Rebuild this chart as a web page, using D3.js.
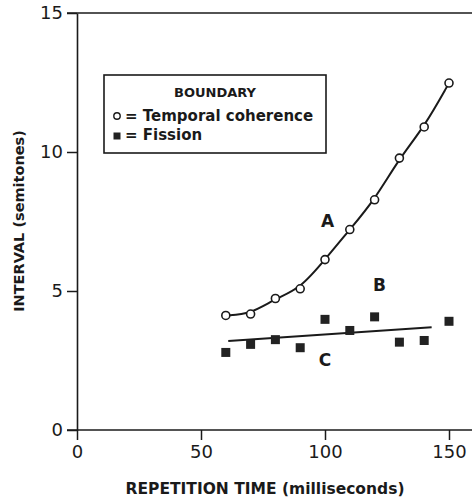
<!DOCTYPE html>
<html>
<head>
<meta charset="utf-8">
<script src="https://cdn.jsdelivr.net/npm/d3@7"></script>
<style>
  html, body { margin: 0; padding: 0; background: #fff; }
  svg { display: block; font-family: "DejaVu Sans", sans-serif; }
</style>
</head>
<body>
<svg id="chart" width="472" height="499"></svg>
<script>
// ---- data ----
const repetitionTimes = [60, 70, 80, 90, 100, 110, 120, 130, 140, 150];
const temporalCoherence = [4.12, 4.17, 4.73, 5.08, 6.13, 7.21, 8.28, 9.78, 10.9, 12.48];
const fission = [2.79, 3.08, 3.25, 2.96, 3.98, 3.58, 4.07, 3.16, 3.22, 3.91];
const fissionFitX = [61, 143];
const fissionFitY = [3.2, 3.7];
const xTicks = [0, 50, 100, 150];
const yTicks = [0, 5, 10, 15];
const regionLabels = ["A", "B", "C"];
const regionLabelX = [101, 122, 100];
const regionLabelY = [7.3, 5.0, 2.3];
const legendTitle = "BOUNDARY";
const legendItems = ["= Temporal coherence", "= Fission"];
const xTitle = "REPETITION TIME (milliseconds)";
const yTitle = "INTERVAL (semitones)";

// ---- layout ----
const W = 472, H = 499;
const svg = d3.select("#chart");
const x = d3.scaleLinear().domain([0, 150]).range([77, 449]);
const y = d3.scaleLinear().domain([0, 15]).range([430, 13]);
const ink = "#1a1a1a";

// frame lines (x axis line and top line extend to right edge)
svg.append("line").attr("x1", x(0) - 10).attr("x2", W).attr("y1", y(0)).attr("y2", y(0))
  .attr("stroke", ink).attr("stroke-width", 1.6);
svg.append("line").attr("x1", x(0) - 10).attr("x2", W).attr("y1", y(15)).attr("y2", y(15))
  .attr("stroke", ink).attr("stroke-width", 1.6);

// y axis
const yAxis = svg.append("g").attr("transform", `translate(${x(0)},0)`)
  .call(d3.axisLeft(y).tickValues(yTicks).tickSize(10).tickPadding(4).tickSizeOuter(0));
yAxis.select(".domain").attr("stroke", ink).attr("stroke-width", 1.6);
yAxis.selectAll(".tick line").attr("stroke", ink).attr("stroke-width", 1.5);
yAxis.selectAll(".tick text").attr("font-size", 18).attr("fill", ink)
  .attr("font-family", "DejaVu Sans, sans-serif");

// x axis
const xAxis = svg.append("g").attr("transform", `translate(0,${y(0)})`)
  .call(d3.axisBottom(x).tickValues(xTicks).tickSize(10).tickPadding(5).tickSizeOuter(0));
xAxis.select(".domain").remove();
xAxis.selectAll(".tick line").attr("stroke", ink).attr("stroke-width", 1.5);
xAxis.selectAll(".tick text").attr("font-size", 18).attr("fill", ink)
  .attr("font-family", "DejaVu Sans, sans-serif");

// axis titles
svg.append("text").attr("x", 265).attr("y", 494)
  .attr("text-anchor", "middle").attr("font-size", 15.5).attr("font-weight", "bold")
  .attr("fill", ink).text(xTitle);
svg.append("text").attr("transform", `translate(24,221) rotate(-90)`)
  .attr("text-anchor", "middle").attr("font-size", 14.5).attr("font-weight", "bold")
  .attr("fill", ink).text(yTitle);

// curve A: smooth fit through temporal coherence points
const ptsA = repetitionTimes.map((t, i) => [x(t), y(temporalCoherence[i])]);
svg.append("path").attr("d", d3.line().curve(d3.curveBasis)(ptsA))
  .attr("fill", "none").attr("stroke", ink).attr("stroke-width", 2);

// fit line C
svg.append("line")
  .attr("x1", x(fissionFitX[0])).attr("y1", y(fissionFitY[0]))
  .attr("x2", x(fissionFitX[1])).attr("y2", y(fissionFitY[1]))
  .attr("stroke", ink).attr("stroke-width", 2);

// markers
svg.selectAll("circle.tc").data(repetitionTimes).join("circle")
  .attr("class", "tc").attr("cx", t => x(t)).attr("cy", (t, i) => y(temporalCoherence[i]))
  .attr("r", 4).attr("fill", "#fff").attr("stroke", ink).attr("stroke-width", 1.6);
svg.selectAll("rect.fi").data(repetitionTimes).join("rect")
  .attr("class", "fi").attr("x", t => x(t) - 4.5).attr("y", (t, i) => y(fission[i]) - 4.5)
  .attr("width", 9).attr("height", 9).attr("fill", "#222");

// region labels
svg.selectAll("text.rl").data(regionLabels).join("text")
  .attr("class", "rl").attr("x", (d, i) => x(regionLabelX[i])).attr("y", (d, i) => y(regionLabelY[i]))
  .attr("text-anchor", "middle").attr("font-size", 17).attr("font-weight", "bold").attr("fill", ink)
  .text(d => d);

// legend
const lg = svg.append("g");
lg.append("rect").attr("x", 104).attr("y", 75).attr("width", 222).attr("height", 78)
  .attr("fill", "#fff").attr("stroke", ink).attr("stroke-width", 1.6);
lg.append("text").attr("x", 215).attr("y", 97).attr("text-anchor", "middle")
  .attr("font-size", 13).attr("font-weight", "bold").attr("fill", ink).text(legendTitle);
lg.append("circle").attr("cx", 117).attr("cy", 116).attr("r", 3.2)
  .attr("fill", "#fff").attr("stroke", ink).attr("stroke-width", 1.4);
lg.append("rect").attr("x", 113.5).attr("y", 132.5).attr("width", 7).attr("height", 7).attr("fill", "#222");
lg.selectAll("text.li").data(legendItems).join("text")
  .attr("class", "li").attr("x", 125).attr("y", (d, i) => 121 + i * 19)
  .attr("font-size", 15).attr("font-weight", "bold").attr("fill", ink).text(d => d);
</script>
</body>
</html>
